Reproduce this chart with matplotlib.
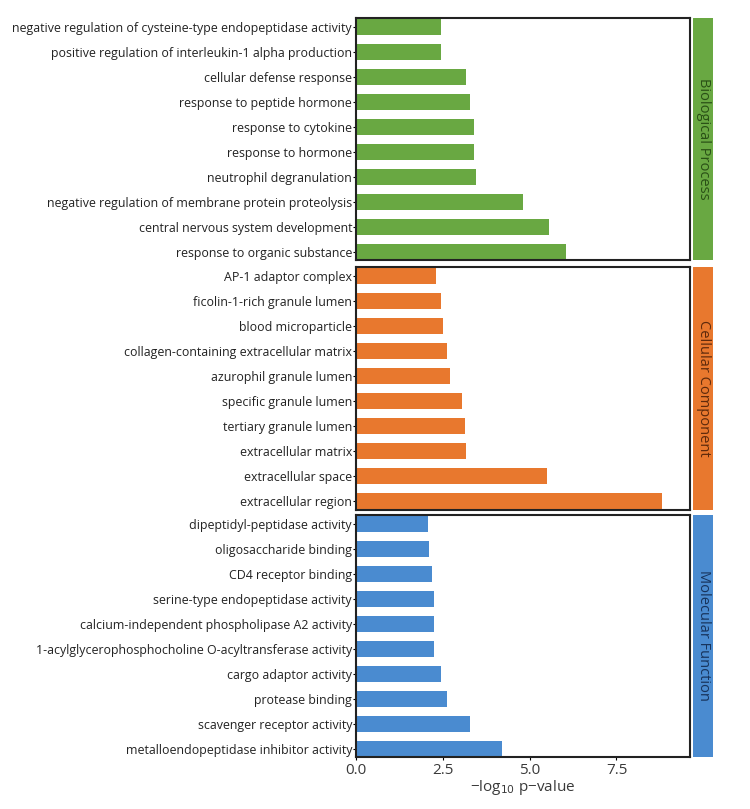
import matplotlib.pyplot as plt
from matplotlib.patches import Rectangle

bp_terms = ['negative regulation of cysteine-type endopeptidase activity',
            'positive regulation of interleukin-1 alpha production',
            'cellular defense response',
            'response to peptide hormone',
            'response to cytokine',
            'response to hormone',
            'neutrophil degranulation',
            'negative regulation of membrane protein proteolysis',
            'central nervous system development',
            'response to organic substance']
bp_values = [2.44, 2.44, 3.17, 3.28, 3.38, 3.40, 3.45, 4.80, 5.57, 6.06]

cc_terms = ['AP-1 adaptor complex',
            'ficolin-1-rich granule lumen',
            'blood microparticle',
            'collagen-containing extracellular matrix',
            'azurophil granule lumen',
            'specific granule lumen',
            'tertiary granule lumen',
            'extracellular matrix',
            'extracellular space',
            'extracellular region']
cc_values = [2.30, 2.44, 2.51, 2.61, 2.71, 3.04, 3.13, 3.17, 5.51, 8.81]

mf_terms = ['dipeptidyl-peptidase activity',
            'oligosaccharide binding',
            'CD4 receptor binding',
            'serine-type endopeptidase activity',
            'calcium-independent phospholipase A2 activity',
            '1-acylglycerophosphocholine O-acyltransferase activity',
            'cargo adaptor activity',
            'protease binding',
            'scavenger receptor activity',
            'metalloendopeptidase inhibitor activity']
mf_values = [2.06, 2.10, 2.19, 2.23, 2.23, 2.23, 2.45, 2.62, 3.27, 4.20]

panels = [['Biological Process', bp_terms, bp_values, '#69a842', '#2a5016'],
          ['Cellular Component', cc_terms, cc_values, '#e8782e', '#5e2a0c'],
          ['Molecular Function', mf_terms, mf_values, '#4a8bd0', '#18345c']]

fig = plt.figure(figsize=(7.5, 8.09), dpi=100)
plt.rcParams['font.family'] = ['Open Sans', 'DejaVu Sans']

left, right = 0.475, 0.92
tops = [0.978, 0.670, 0.364]
height = 0.300

for i, (name, terms, values, color, dark) in enumerate(panels):
    ax = fig.add_axes([left, tops[i] - height, right - left, height])
    ypos = list(range(len(terms)))
    ax.barh(ypos, values, height=0.64, color=color)
    ax.set_yticks(ypos)
    ax.set_yticklabels(terms, fontsize=8.9, color='#222222')
    ax.set_ylim(len(terms) - 0.66, -0.38)
    ax.set_xlim(0, 9.62)
    ax.set_xticks([0, 2.5, 5.0, 7.5])
    ax.tick_params(axis='y', length=2, width=0.8, pad=1)
    for s in ax.spines.values():
        s.set_linewidth(1.5)
        s.set_color('#222222')
    if i < 2:
        ax.tick_params(axis='x', length=0, labelbottom=False)
    else:
        ax.set_xticklabels(['0.0', '2.5', '5.0', '7.5'])
        ax.tick_params(axis='x', length=2, labelsize=11, labelcolor='#3a3a3a', pad=2)
        ax.set_xlabel('−log$_{10}$ p−value', fontsize=11, color='#3a3a3a', labelpad=0)

    strip = fig.add_axes([0.924, tops[i] - height, 0.027, height])
    strip.add_patch(Rectangle((0, 0), 1, 1, color=color, transform=strip.transAxes))
    strip.text(0.5, 0.5, name, rotation=-90, ha='center', va='center',
               fontsize=10.5, color=dark, transform=strip.transAxes)
    strip.axis('off')

plt.savefig('out.png', dpi=100)
